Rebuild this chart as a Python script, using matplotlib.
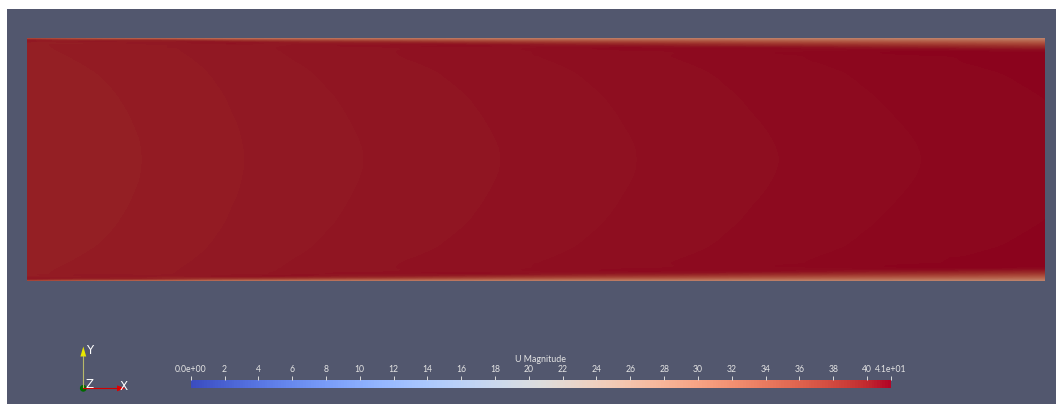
import numpy as np
import matplotlib
matplotlib.use("Agg")
import matplotlib.pyplot as plt
import matplotlib.tri as mtri
from matplotlib import cm
from matplotlib.colors import ListedColormap, Normalize
from matplotlib.patches import Rectangle, Polygon, Circle

plt.rcParams['font.family'] = ['Lato', 'DejaVu Sans']

# ---------------- data ----------------
# stream-wise stations, as fraction of the channel length
x_stations = [0.0, 0.113, 0.214, 0.331, 0.464, 0.60, 0.74, 0.88, 1.0]
# distance from the nearest wall, as fraction of channel height (0.5 = centreline)
wall_dist = [0.0, 0.004, 0.01, 0.018, 0.028, 0.04, 0.055, 0.075, 0.1, 0.14, 0.19, 0.24,
             0.30, 0.36, 0.42, 0.46, 0.5]
# U magnitude: one row per stream-wise station, one column per wall distance
u_x000 = [28.0, 37.0, 40.065, 40.075, 40.08, 40.077, 40.07, 40.06, 40.048, 40.032, 40.018,
          40.007, 39.997, 39.989, 39.983, 39.981, 39.98]
u_x113 = [28.0, 33.95, 39.2, 40.21, 40.216, 40.213, 40.205, 40.194, 40.181, 40.163, 40.148,
          40.136, 40.125, 40.116, 40.109, 40.107, 40.106]
u_x214 = [28.0, 32.43, 37.25, 40.25, 40.383, 40.38, 40.372, 40.36, 40.346, 40.328, 40.312,
          40.299, 40.288, 40.278, 40.272, 40.269, 40.268]
u_x331 = [28.0, 31.54, 35.77, 39.34, 40.54, 40.548, 40.55, 40.544, 40.526, 40.502, 40.484,
          40.468, 40.455, 40.444, 40.435, 40.431, 40.43]
u_x464 = [28.0, 30.88, 34.52, 38.06, 40.41, 40.708, 40.71, 40.704, 40.686, 40.662, 40.644,
          40.628, 40.615, 40.604, 40.595, 40.591, 40.59]
u_x600 = [28.0, 30.44, 33.62, 36.97, 39.71, 40.877, 40.879, 40.873, 40.854, 40.829, 40.81,
          40.794, 40.78, 40.769, 40.759, 40.755, 40.754]
u_x740 = [28.0, 30.08, 32.86, 35.93, 38.76, 40.67, 41.04, 41.046, 41.03, 41.0, 40.981,
          40.964, 40.949, 40.934, 40.923, 40.918, 40.916]
u_x880 = [28.0, 29.82, 32.29, 35.1, 37.89, 40.12, 41.2, 41.213, 41.197, 41.166, 41.146,
          41.128, 41.112, 41.097, 41.085, 41.08, 41.078]
u_x1000 = [28.0, 29.61, 31.82, 34.42, 37.1, 39.43, 41.05, 41.33, 41.313, 41.281, 41.26,
           41.242, 41.225, 41.21, 41.197, 41.192, 41.19]

u_min, u_max = 0.0, 41.4
cbar_ticks = [0, 2, 4, 6, 8, 10, 12, 14, 16, 18, 20, 22, 24, 26, 28, 30, 32, 34, 36, 38, 40, 41.4]
cbar_labels = ['0.0e+00', '2', '4', '6', '8', '10', '12', '14', '16', '18', '20', '22', '24',
               '26', '28', '30', '32', '34', '36', '38', '40', '4.1e+01']
cbar_title = 'U Magnitude'

# ---------------- figure ----------------
W, H = 1057, 405
fig = plt.figure(figsize=(W / 100, H / 100), dpi=100)
fig.patch.set_facecolor('white')
bg = '#52576e'
fig.add_artist(Rectangle((7 / W, 1 / H), (1056 - 7) / W, (404 - 9) / H,
                         transform=fig.transFigure, facecolor=bg, edgecolor='none', zorder=-10))

# field (mirror the half-channel table about the centreline)
u_half = np.array([u_x000, u_x113, u_x214, u_x331, u_x464, u_x600, u_x740, u_x880, u_x1000])
d = np.array(wall_dist)
y_full = np.concatenate([d, 1.0 - d[-2::-1]])
u_full = np.hstack([u_half, u_half[:, -2::-1]])
X, Y = np.meshgrid(np.array(x_stations), y_full)

tri = mtri.Triangulation(X.ravel(), Y.ravel())
interp = mtri.CubicTriInterpolator(tri, u_full.T.ravel(), kind='geom')
refiner = mtri.UniformTriRefiner(tri)
tri_f, u_f = refiner.refine_field(u_full.T.ravel(), triinterpolator=interp, subdiv=3)

base = cm.coolwarm(np.linspace(0, 1, 256))
shade = 0.77
field_cmap = ListedColormap(np.column_stack([base[:, :3] * shade, np.ones(256)]))
norm = Normalize(vmin=u_min, vmax=u_max)
levels = np.linspace(u_min, u_max, 257)

ax = fig.add_axes([27 / W, (H - 281) / H, 1018 / W, 243 / H])
ax.tricontourf(tri_f, np.clip(u_f, u_min, u_max), levels=levels, cmap=field_cmap, norm=norm,
               antialiased=False)
ax.set_xlim(0, 1)
ax.set_ylim(0, 1)
ax.axis('off')

# colour bar
cax = fig.add_axes([190.7 / W, (H - 388) / H, 700 / W, 8 / H])
sm = cm.ScalarMappable(norm=norm, cmap='coolwarm')
cb = fig.colorbar(sm, cax=cax, orientation='horizontal')
cb.outline.set_visible(False)
cax.xaxis.set_ticks_position('top')
cb.set_ticks(cbar_ticks, labels=cbar_labels)
cax.tick_params(axis='x', which='major', direction='out', length=2.6, width=0.7,
                color='#dcdcdc', labelsize=6.2, labelcolor='#e4e4e4', pad=2.0)
cax.tick_params(axis='x', which='minor', length=0)
fig.text(540.7 / W, (H - 362.5) / H, cbar_title, ha='center', va='baseline',
         fontsize=6.4, color='#e4e4e4')

# orientation triad
ov = fig.add_axes([0, 0, 1, 1])
ov.set_xlim(0, W)
ov.set_ylim(H, 0)
ov.axis('off')
ox, oy = 83.3, 388.3
ov.plot([ox, ox], [oy, 356], color='#b8b86a', lw=0.8)
ov.add_patch(Polygon([(80.4, 356.5), (86.2, 356.5), (83.3, 346.5)], closed=True,
                     facecolor='#e8e800', edgecolor='none'))
ov.plot([ox, 117.5], [oy, oy], color='#d00000', lw=0.8)
ov.add_patch(Polygon([(117.0, 385.4), (117.0, 391.3), (125.5, 388.3)], closed=True,
                     facecolor='#e00000', edgecolor='none'))
ov.add_patch(Circle((ox, oy), 3.4, facecolor='#006a00', edgecolor='none'))
for s, tx, ty in [('Y', 89.6, 351.0), ('Z', 89.8, 384.5), ('X', 123.8, 386.0)]:
    ov.text(tx, ty, s, ha='center', va='center', fontsize=8.6, color='white',
            family=['DejaVu Sans'])

fig.savefig('out.png', dpi=100, facecolor=fig.get_facecolor())
